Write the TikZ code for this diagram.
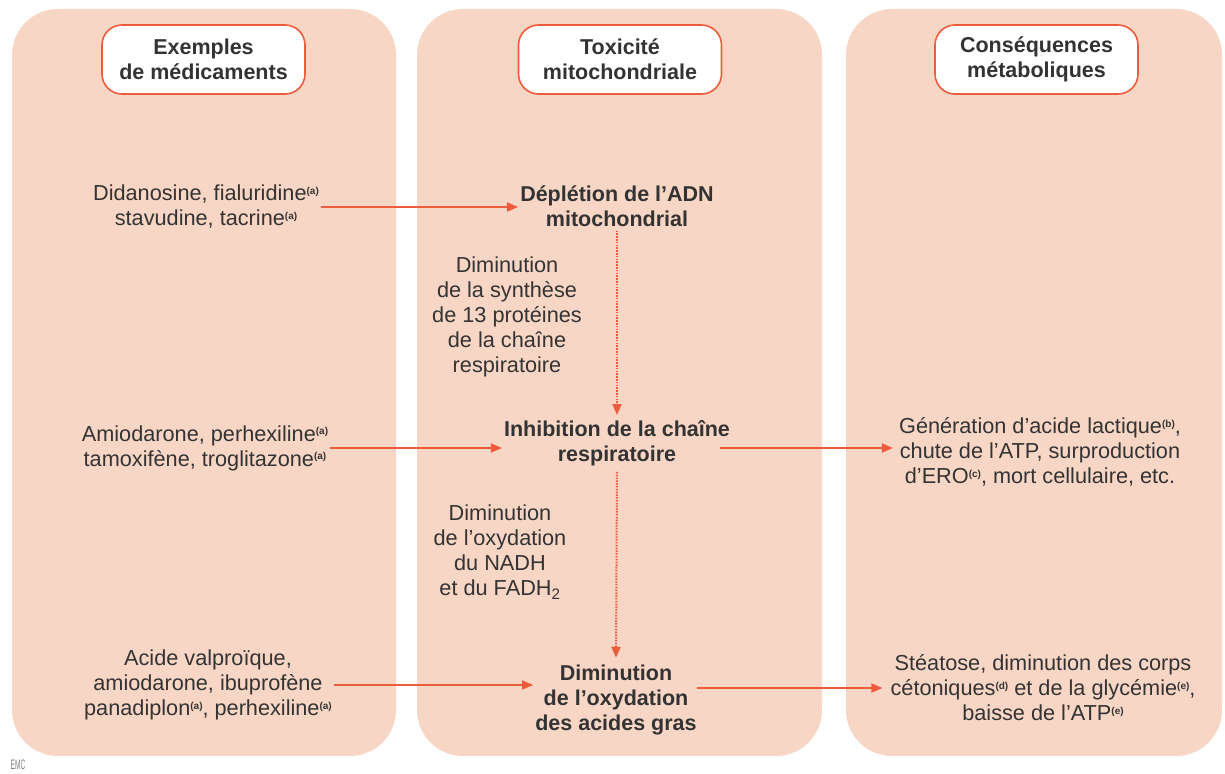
\documentclass[tikz,border=0pt]{standalone}
\usepackage{fontspec}
\setmainfont{Liberation Sans}
\usetikzlibrary{arrows.meta}
\definecolor{panelfill}{HTML}{F8D6C5}
\definecolor{accent}{HTML}{EC5B3C}
\definecolor{ink}{HTML}{333333}
\newcommand{\nref}[1]{\raisebox{6.5pt}{\fontsize{10}{10}\selectfont\bfseries(#1)}}
\begin{document}
\begin{tikzpicture}[x=1pt,y=-1pt,
  panel/.style={fill=panelfill, draw=none, rounded corners=46pt, inner sep=0},
  header/.style={draw=accent, line width=1.6pt, fill=white, rounded corners=20pt,
    minimum width=203pt, minimum height=69pt, align=center,
    font=\fontsize{21.5}{25}\selectfont\bfseries, text=ink, inner sep=0},
  txt/.style={align=center, font=\fontsize{21.7}{25}\selectfont, text=ink, inner sep=2pt},
  key/.style={align=center, font=\fontsize{21.5}{25}\selectfont\bfseries, text=ink, inner sep=2pt},
  arr/.style={draw=accent, line width=1.8pt, -{Triangle[length=11pt,width=9pt]}},
  dotarr/.style={draw=accent, line width=2pt, dash pattern=on 1.5pt off 1.3pt,
    -{Triangle[length=11pt,width=9pt]}}
]
\useasboundingbox (0,0) rectangle (1225,773);

% panels
\node[panel, minimum width=384pt, minimum height=747pt] (p1) at (204,382.5) {};
\node[panel, minimum width=405pt, minimum height=747pt] (p2) at (619.5,382.5) {};
\node[panel, minimum width=376pt, minimum height=747pt] (p3) at (1034,382.5) {};

% headers
\node[header] (h1) at (203.5,59.5) {Exemples\\de médicaments};
\node[header] (h2) at (620,59.5) {Toxicité\\mitochondriale};
\node[header] (h3) at (1036.5,59.5) {Conséquences\\métaboliques};

% left column
\node[txt] (d1) at (206,207) {Didanosine, fialuridine\nref{a}\\stavudine, tacrine\nref{a}};
\node[txt] (d2) at (205,448) {Amiodarone, perhexiline\nref{a}\\tamoxifène, troglitazone\nref{a}};
\node[txt] (d3) at (208,685) {Acide valproïque,\\amiodarone, ibuprofène\\panadiplon\nref{a}, perhexiline\nref{a}};

% middle column
\node[key] (dep) at (617,206) {Déplétion de l’ADN\\mitochondrial};
\node[txt] (syn) at (507,317) {Diminution\\de la synthèse\\de 13 protéines\\de la chaîne\\respiratoire};
\node[key] (inh) at (617,443) {Inhibition de la chaîne\\respiratoire};
\node[txt] (nadh) at (500,552) {Diminution\\de l’oxydation\\du NADH\\et du FADH\textsubscript{2}};
\node[key] (gras) at (616,700) {Diminution\\de l’oxydation\\des acides gras};

% right column
\node[txt] (r2) at (1040,452) {Génération d’acide lactique\nref{b},\\chute de l’ATP, surproduction\\d’ERO\nref{c}, mort cellulaire, etc.};
\node[txt] (r3) at (1043,688) {Stéatose, diminution des corps\\cétoniques\nref{d} et de la glycémie\nref{e},\\baisse de l’ATP\nref{e}};

% watermark
\node[inner sep=0, text=gray, font=\fontsize{11}{11}\selectfont] (emc) at (18,765) {\scalebox{0.6}[1.25]{EMC}};

% connectors
\draw[arr] (d1.east) -- (d1.east -| dep.west);
\draw[arr] (d2.east) -- (d2.east -| inh.west);
\draw[arr] ([xshift=-12pt]inh.east |- d2.east) -- ([xshift=-4pt]r2.west |- d2.east);
\draw[arr] (d3.east) -- (d3.east -| gras.west);
\draw[arr] ([xshift=-2pt]gras.east |- r3.west) -- ([xshift=-6pt]r3.west);
\draw[dotarr] ([yshift=-2pt]dep.south) -- ([yshift=3pt]inh.north);
\draw[dotarr] ([yshift=-4pt]inh.south) -- ([yshift=5pt]gras.north);
\end{tikzpicture}
\end{document}
